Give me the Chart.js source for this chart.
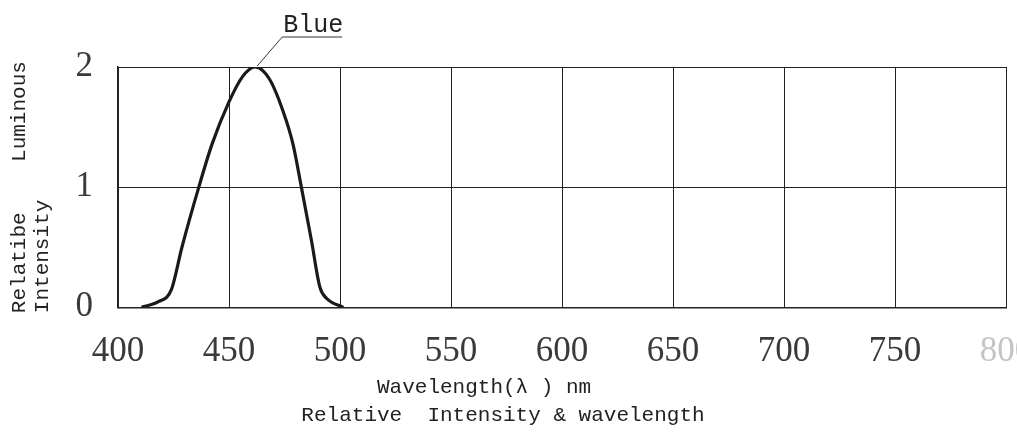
<!DOCTYPE html>
<html>
<head>
<meta charset="utf-8">
<script src="https://cdn.jsdelivr.net/npm/chart.js@4/dist/chart.umd.min.js"></script>
<style>
  body { margin: 0; background: #fff; }
  #wrap { width: 1017px; height: 435px; }
</style>
</head>
<body>
<div id="wrap"><canvas id="myChart" width="1017" height="435"></canvas></div>
<script>
// Datos (longitud de onda en nm, intensidad relativa)
const wavelengths = [410.6, 418.2, 424, 428.8, 436.4, 442.4, 450, 456.1, 461.8, 468.2, 474.2, 478.8, 482.6, 487.1, 490.9, 493.9, 501.5];
const intensity   = [0, 0.047, 0.145, 0.50, 1.0, 1.36, 1.71, 1.92, 2.0, 1.90, 1.64, 1.36, 1.0, 0.56, 0.17, 0.075, 0];
const xTicks = [400, 450, 500, 550, 600, 650, 700, 750, 800];
const yTicks = [0, 1, 2];
const seriesLabel = 'Blue';

const ink = '#222';
const tickInk = '#3a3a3a';
const mono = 'Liberation Mono';

// etiqueta "Blue" con linea guia hacia el pico
const blueLabel = {
    id: 'blueLabel',
    afterDraw(chart) {
        const ctx = chart.ctx;
        const xs = chart.scales.x, ys = chart.scales.y;
        let iMax = 0;
        intensity.forEach((v, i) => { if (v > intensity[iMax]) iMax = i; });
        const px = xs.getPixelForValue(wavelengths[iMax]);
        const py = ys.getPixelForValue(intensity[iMax]);
        ctx.save();
        ctx.strokeStyle = '#333';
        ctx.lineWidth = 1;
        ctx.beginPath();
        ctx.moveTo(px + 2, py - 1);
        ctx.lineTo(px + 27, py - 30);
        ctx.lineTo(px + 87, py - 30);
        ctx.stroke();
        ctx.fillStyle = ink;
        ctx.font = '25px "' + mono + '"';
        ctx.textAlign = 'left';
        ctx.textBaseline = 'alphabetic';
        ctx.fillText(seriesLabel, px + 28, py - 35);
        ctx.restore();
    }
};

document.addEventListener('DOMContentLoaded', () => {
    const ctx = document.getElementById('myChart').getContext('2d');

    new Chart(ctx, {
        type: 'line',
        data: {
            datasets: [{
                label: seriesLabel,
                data: wavelengths.map((w, i) => ({ x: w, y: intensity[i] })),
                borderColor: '#1a1a1a',
                borderWidth: 3.2,
                pointRadius: 0,
                cubicInterpolationMode: 'monotone',
                fill: false
            }]
        },
        options: {
            responsive: false,
            animation: false,
            layout: { padding: { left: 0, right: 11, top: 67, bottom: 0 } },
            plugins: {
                legend: { display: false },
                tooltip: { enabled: false },
                title: {
                    display: true,
                    position: 'bottom',
                    text: ['Wavelength(λ ) nm   ', 'Relative  Intensity & wavelength'],
                    color: ink,
                    font: { family: mono, size: 21, weight: 'normal', lineHeight: 1.35 },
                    padding: { top: 10, bottom: 5 }
                }
            },
            scales: {
                x: {
                    type: 'linear',
                    min: 400,
                    max: 800,
                    afterBuildTicks: (s) => { s.ticks = xTicks.map(v => ({ value: v })); },
                    afterFit: (s) => { s.height = 56; s.paddingLeft = 0; s.paddingRight = 0; },
                    grid: { color: ink, lineWidth: 1, drawTicks: false },
                    border: { color: ink, width: 1.5 },
                    ticks: {
                        padding: 24,
                        maxRotation: 0,
                        autoSkip: false,
                        color: (c) => c.tick && c.tick.value === 800 ? '#c4c4c4' : tickInk,
                        font: { family: 'Liberation Serif', size: 35 }
                    }
                },
                y: {
                    min: 0,
                    max: 2,
                    afterBuildTicks: (s) => { s.ticks = yTicks.map(v => ({ value: v })); },
                    afterFit: (s) => { s.width = 118; },
                    grid: { color: ink, lineWidth: 1, drawTicks: false },
                    border: { color: ink, width: 1.5 },
                    ticks: {
                        padding: 25,
                        color: tickInk,
                        font: { family: 'Liberation Serif', size: 35 }
                    },
                    title: {
                        display: true,
                        text: ['Relatibe    Luminous', 'Intensity           '],
                        color: ink,
                        font: { family: mono, size: 21, lineHeight: 1.1 },
                        padding: { top: 8, bottom: 0 }
                    }
                }
            }
        },
        plugins: [blueLabel]
    });
});
</script>
</body>
</html>
